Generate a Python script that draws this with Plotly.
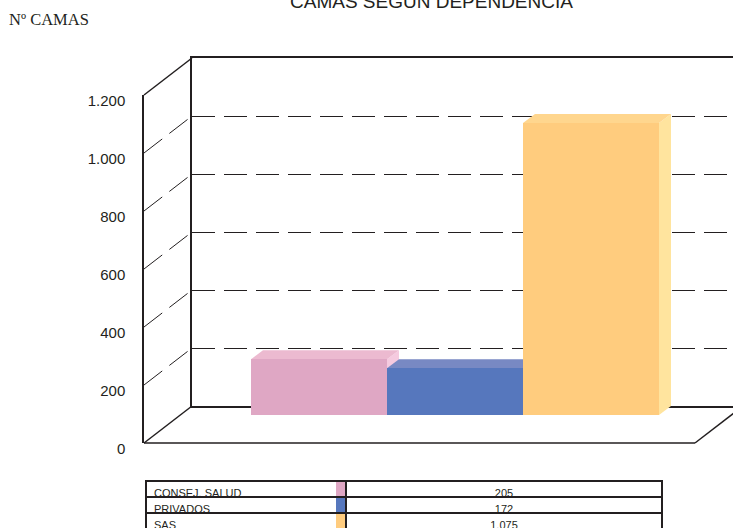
import plotly.graph_objects as go

# ---------------- data ----------------
CATEGORIES = ["CONSEJ. SALUD", "PRIVADOS", "SAS"]
CAMAS = [205, 172, 1075]
TICK_VALUES = [0, 200, 400, 600, 800, 1000, 1200]
TICK_LABELS = ["0", "200", "400", "600", "800", "1.000", "1.200"]
TITLE = "CAMAS SEGÚN DEPENDENCIA"
Y_TITLE = "Nº CAMAS"

# ---------------- style ----------------
FRONT = ["#DFA7C4", "#5677BD", "#FFCC7E"]
TOP = ["#ECBAD0", "#7889C3", "#FFD68E"]
SIDE = ["#F5CADF", "#8796CB", "#FFE49E"]
INK = "#231f20"
W, H = 733, 529

def fx(px):
    return px / W

def fy(py):
    return 1 - py / H

# geometry of the 3D frame (pixels)
FRONT_X, BACK_X = 144, 192
FRONT_Y0, BACK_Y0 = 443, 406
WALL_TOP_FRONT, WALL_TOP_BACK = 95, 58
FLOOR_RIGHT_FRONT = 695
WALL_SCALE = (FRONT_Y0 - WALL_TOP_FRONT) / TICK_VALUES[-1]
DEPTH_DX, DEPTH_DY = BACK_X - FRONT_X, FRONT_Y0 - BACK_Y0

# bar plane
CAT_PX = 136
BAR_LEFT_PX = 251
BAR_BASE_PX = 415
BAR_SCALE = 0.2716
BAR_DX = 12 / CAT_PX
BAR_DY = 9 / BAR_SCALE
x_range = [-0.5 - BAR_LEFT_PX / CAT_PX, -0.5 + (W - BAR_LEFT_PX) / CAT_PX]
y_range = [-(H - BAR_BASE_PX) / BAR_SCALE, BAR_BASE_PX / BAR_SCALE]

idx = list(range(len(CATEGORIES)))
VALUE_TEXT = [f"{v:,}".replace(",", ".") for v in CAMAS]

fig = go.Figure()

# subplot xy : back wall (grid)
fig.add_trace(go.Scatter(x=[0], y=[0], mode="markers", marker=dict(opacity=0),
                         hoverinfo="skip", showlegend=False, xaxis="x", yaxis="y"))
# subplot x2y2 : front edge with labels
fig.add_trace(go.Scatter(x=[0], y=[0], mode="markers", marker=dict(opacity=0),
                         hoverinfo="skip", showlegend=False, xaxis="x2", yaxis="y2"))

# side and top faces of bars (x3y3)
for i, v in zip(idx, CAMAS):
    side_x = [i + 0.5, i + 0.5, i + 0.5 + BAR_DX, i + 0.5 + BAR_DX, i + 0.5]
    side_y = [0, v, v + BAR_DY, BAR_DY, 0]
    fig.add_trace(go.Scatter(x=side_x, y=side_y, fill="toself", mode="lines",
                             line=dict(width=0, color=SIDE[i]), fillcolor=SIDE[i],
                             hoverinfo="skip", showlegend=False, xaxis="x3", yaxis="y3"))
    top_x = [i - 0.5, i + 0.5, i + 0.5 + BAR_DX, i - 0.5 + BAR_DX, i - 0.5]
    top_y = [v, v, v + BAR_DY, v + BAR_DY, v]
    fig.add_trace(go.Scatter(x=top_x, y=top_y, fill="toself", mode="lines",
                             line=dict(width=0, color=TOP[i]), fillcolor=TOP[i],
                             hoverinfo="skip", showlegend=False, xaxis="x3", yaxis="y3"))

# front faces (x4y4 overlay)
fig.add_trace(go.Bar(x=idx, y=CAMAS, width=1, marker=dict(color=FRONT, line=dict(width=0)),
                     text=CATEGORIES, hovertemplate="%{text}: %{y}<extra></extra>",
                     textposition="none", showlegend=False, xaxis="x4", yaxis="y4"))

# legend swatches in the table (x5y5)
fig.add_trace(go.Bar(y=idx, x=[1] * len(idx), orientation="h", width=0.86,
                     marker=dict(color=FRONT, line=dict(width=0)), hoverinfo="skip",
                     showlegend=False, xaxis="x5", yaxis="y5"))

# data table (first row as header so that no empty header row is added)
TABLE_TOP = 481
ROW_H = 16
cell_font = dict(family="Liberation Sans, Arial", size=11, color=INK)
fig.add_trace(go.Table(
    domain=dict(x=[fx(146), fx(662)], y=[0, fy(TABLE_TOP)]),
    columnwidth=[200, 316],
    header=dict(values=[CATEGORIES[0], VALUE_TEXT[0]],
                align=["left", "center"], height=ROW_H, font=cell_font,
                fill=dict(color="rgba(0,0,0,0)"), line=dict(color=INK, width=1.5)),
    cells=dict(values=[CATEGORIES[1:], VALUE_TEXT[1:]],
               align=["left", "center"], height=ROW_H, font=cell_font,
               fill=dict(color="rgba(0,0,0,0)"), line=dict(color=INK, width=1.5)),
))

hidden = dict(visible=False, fixedrange=True, automargin=False)

shapes = []
shapes.append(dict(type="line", xref="paper", yref="paper",
                   x0=fx(FRONT_X), y0=fy(WALL_TOP_FRONT), x1=fx(BACK_X), y1=fy(WALL_TOP_BACK),
                   line=dict(color=INK, width=1.5)))
shapes.append(dict(type="line", xref="paper", yref="paper",
                   x0=fx(FRONT_X), y0=fy(FRONT_Y0), x1=fx(BACK_X), y1=fy(BACK_Y0),
                   line=dict(color=INK, width=1.5)))
shapes.append(dict(type="line", xref="paper", yref="paper",
                   x0=fx(FRONT_X), y0=fy(FRONT_Y0), x1=fx(FLOOR_RIGHT_FRONT), y1=fy(FRONT_Y0),
                   line=dict(color=INK, width=1.5)))
shapes.append(dict(type="line", xref="paper", yref="paper",
                   x0=fx(FLOOR_RIGHT_FRONT), y0=fy(FRONT_Y0),
                   x1=fx(FLOOR_RIGHT_FRONT + DEPTH_DX), y1=fy(BACK_Y0),
                   line=dict(color=INK, width=1.5)))
for v in TICK_VALUES[1:-1]:
    yf = FRONT_Y0 - v * WALL_SCALE
    shapes.append(dict(type="line", xref="paper", yref="paper",
                       x0=fx(FRONT_X), y0=fy(yf), x1=fx(BACK_X), y1=fy(yf - DEPTH_DY),
                       line=dict(color=INK, width=1, dash="23px,9px")))

fig.update_layout(
    template="none",
    width=W, height=H, autosize=False,
    margin=dict(l=0, r=0, t=0, b=0, pad=0, autoexpand=False),
    paper_bgcolor="white", plot_bgcolor="rgba(0,0,0,0)",
    separators=",.",
    showlegend=False,
    bargap=0,
    shapes=shapes,
    xaxis=dict(domain=[fx(BACK_X), 1], range=[0, 1], showline=True, mirror=True,
               linecolor=INK, linewidth=1.5, showgrid=False, zeroline=False,
               showticklabels=False, ticks="", fixedrange=True, automargin=False),
    yaxis=dict(domain=[fy(BACK_Y0), fy(WALL_TOP_BACK)], range=[0, TICK_VALUES[-1]],
               tickvals=TICK_VALUES[1:-1], showgrid=True, gridcolor=INK, gridwidth=1,
               griddash="23px,9px", showline=True, linecolor=INK, linewidth=1.5,
               zeroline=False, showticklabels=False, ticks="", fixedrange=True,
               automargin=False),
    xaxis2=dict(domain=[fx(FRONT_X), 1], range=[0, 1], anchor="y2", **hidden),
    yaxis2=dict(domain=[fy(FRONT_Y0), fy(WALL_TOP_FRONT)], range=[0, TICK_VALUES[-1]],
                anchor="x2", tickvals=TICK_VALUES, ticktext=TICK_LABELS,
                showline=True, linecolor=INK, linewidth=1.5, showgrid=False,
                zeroline=False, ticks="", ticklabelstandoff=14, ticklabelshift=6,
                tickfont=dict(family="Liberation Sans, Arial", size=15, color=INK),
                fixedrange=True, automargin=False),
    xaxis3=dict(domain=[0, 1], range=x_range, anchor="y3", **hidden),
    yaxis3=dict(domain=[0, 1], range=y_range, anchor="x3", **hidden),
    xaxis4=dict(domain=[0, 1], range=x_range, anchor="y4", overlaying="x3", **hidden),
    yaxis4=dict(domain=[0, 1], range=y_range, anchor="x4", overlaying="y3", **hidden),
    xaxis5=dict(domain=[fx(336), fx(345)], range=[0, 1], anchor="y5", **hidden),
    yaxis5=dict(domain=[fy(TABLE_TOP + 3 * ROW_H), fy(TABLE_TOP)],
                range=[len(idx) - 0.5, -0.5], anchor="x5", **hidden),
    annotations=[
        dict(text=TITLE, xref="paper", yref="paper", x=fx(431), y=fy(1),
             xanchor="center", yanchor="middle", showarrow=False,
             font=dict(family="Liberation Sans, Arial", size=19, color=INK)),
        dict(text=Y_TITLE, xref="paper", yref="paper", x=fx(7), y=fy(19),
             xanchor="left", yanchor="middle", showarrow=False,
             font=dict(family="Liberation Serif, Times New Roman", size=16.5, color=INK)),
    ],
)

fig.write_html("out.html", config={"displayModeBar": False},
               post_script="document.body.style.margin='0';document.body.style.overflow='hidden';")
